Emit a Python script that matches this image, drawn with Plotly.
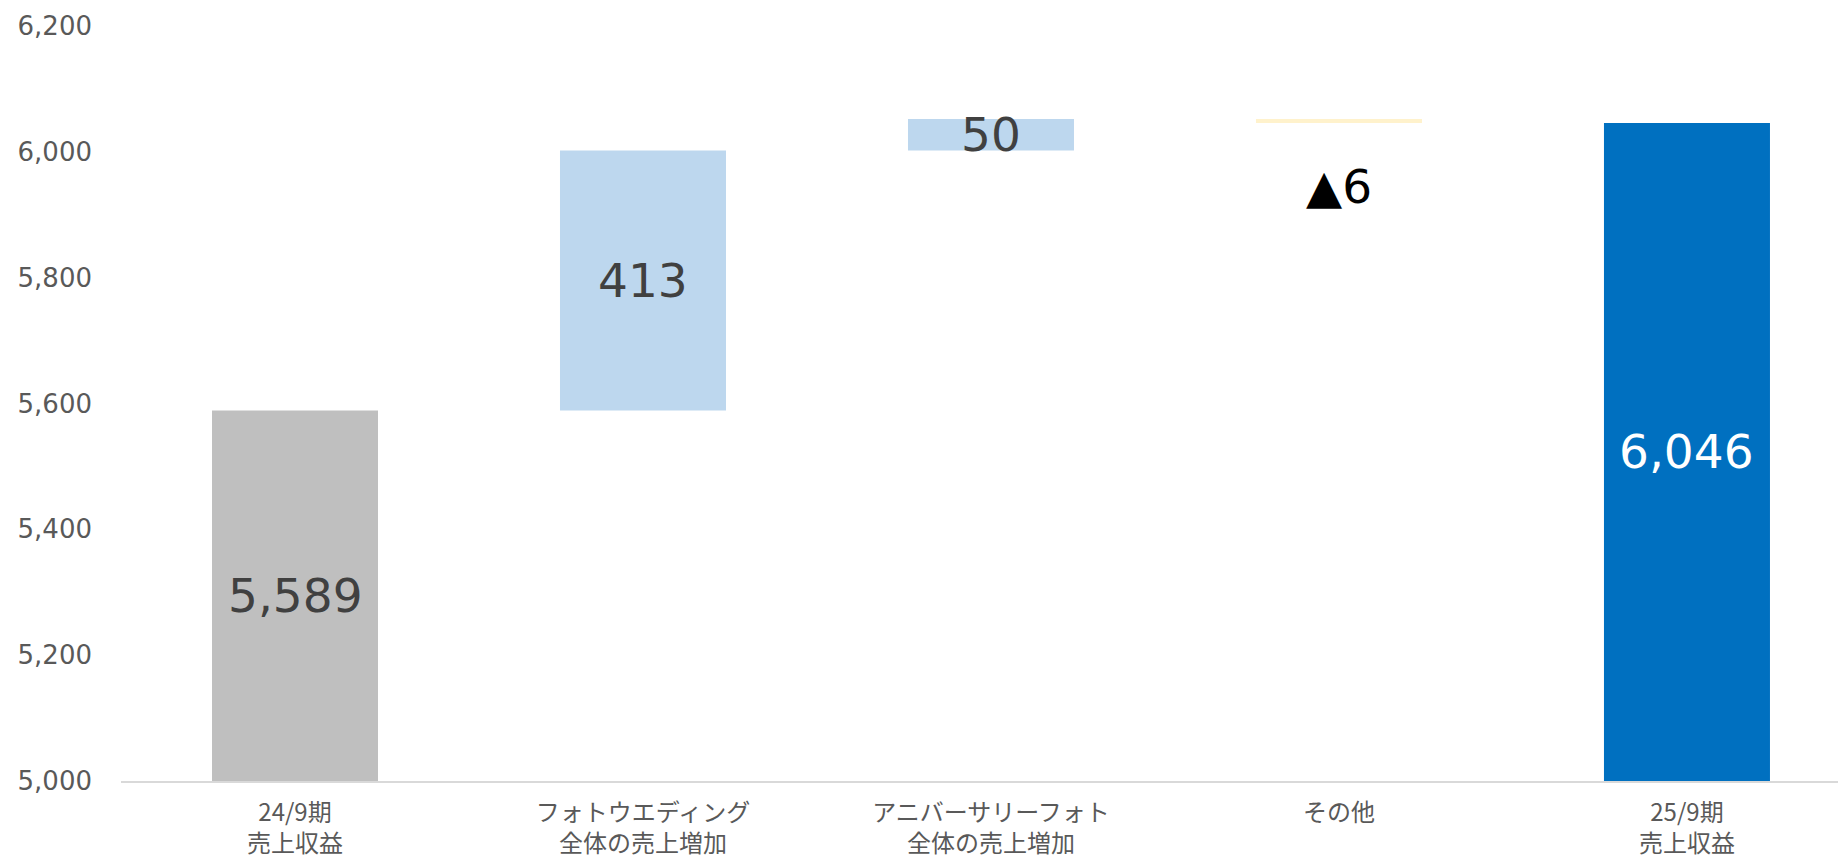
import plotly.graph_objects as go

categories = ["24/9期<br>売上収益", "フォトウエディング<br>全体の売上増加",
              "アニバーサリーフォト<br>全体の売上増加", "その他", "25/9期<br>売上収益"]
values = [5589, 413, 50, -6, 6046]
labels = ["5,589", "413", "50", "▲6", "6,046"]
kinds = ["total", "delta", "delta", "delta", "total"]
y_ticks = [5000, 5200, 5400, 5600, 5800, 6000, 6200]

bar_colors = ["#BFBFBF", "#BDD7EE", "#BDD7EE", "#FFF2CC", "#0070C0"]
label_colors = ["#404040", "#404040", "#404040", "#000000", "#FFFFFF"]

AXIS_MIN = 5000

# compute floating bar bases / tops
bases, heights = [], []
running = 0
for v, k in zip(values, kinds):
    if k == "total":
        bases.append(AXIS_MIN)
        heights.append(v - AXIS_MIN)
        running = v
    else:
        lo = min(running, running + v)
        bases.append(lo)
        heights.append(abs(v))
        running += v

mids = [b + h / 2 for b, h in zip(bases, heights)]

CJK = "Noto Sans CJK JP"
NUM = "DejaVu Sans"

fig = go.Figure()
fig.add_trace(go.Bar(
    x=categories, y=heights, base=bases,
    marker=dict(color=bar_colors, line=dict(width=0)),
    width=0.477, hoverinfo="skip", showlegend=False,
))

for i, (c, m, lab, col, k, v) in enumerate(zip(categories, mids, labels, label_colors, kinds, values)):
    if k == "delta" and v < 0:
        fig.add_annotation(x=c, y=bases[i], text=lab, showarrow=False,
                           yanchor="middle", yshift=-64,
                           font=dict(family=NUM, size=47, color=col))
    else:
        fig.add_annotation(x=c, y=m, text=lab, showarrow=False,
                           yanchor="middle",
                           font=dict(family=NUM, size=47, color=col))

fig.update_layout(
    width=1830, height=850,
    margin=dict(l=113, r=0, t=18, b=77),
    paper_bgcolor="white", plot_bgcolor="white",
    font=dict(family=CJK, color="#595959"),
    xaxis=dict(
        range=[-0.5, 4.434],
        showline=True, linecolor="#D9D9D9", linewidth=2,
        showgrid=False, ticks="",
        tickfont=dict(family=CJK, size=24, color="#595959"),
        ticklabelstandoff=9,
    ),
    yaxis=dict(
        range=[AXIS_MIN, 6200],
        tickvals=y_ticks,
        ticktext=[f"{t:,}" for t in y_ticks],
        showgrid=False, zeroline=False, showline=False, ticks="",
        tickfont=dict(family=NUM, size=26, color="#595959"),
        ticklabelstandoff=28,
    ),
)

fig.write_html("out.html")
